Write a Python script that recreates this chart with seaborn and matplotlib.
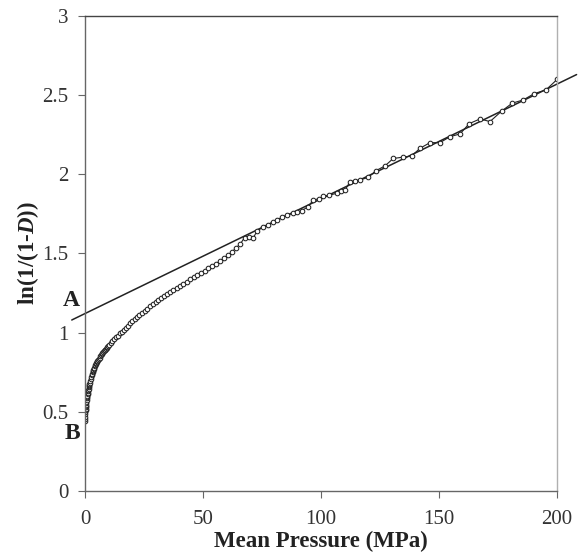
import numpy as np
import seaborn as sns
import matplotlib.pyplot as plt

# Heckel plot data: mean pressure (MPa) vs ln(1/(1-D))
pressao = [0.0, 0.05, 0.1, 0.15, 0.2, 0.25, 0.3, 0.35, 0.4, 0.45, 0.5, 0.6, 0.7, 0.8, 0.9,
           1.0, 1.1, 1.2, 1.3, 1.4, 1.5, 1.6, 1.7, 1.8, 1.9, 2.0, 2.2, 2.4, 2.6, 2.8,
           3.0, 3.2, 3.4, 3.6, 3.8, 4.0, 4.2, 4.4, 4.6, 4.8, 5.0, 5.3, 5.6, 5.9, 6.2,
           6.5, 6.8, 7.1, 7.4, 7.7, 8.0, 8.3, 8.6, 8.9, 9.2, 9.5, 9.8,
           10.2, 10.9, 11.6, 12.3, 13.1, 13.9, 14.7, 15.5, 16.4, 17.3, 18.2, 19.1,
           20.1, 21.1, 22.1, 23.1, 24.2, 25.3, 26.4, 27.5, 28.7, 29.9, 31.1, 32.3, 33.6,
           34.9, 36.2, 37.5, 38.9, 40.3, 41.7, 43.1, 44.6, 46.1, 47.6, 49.1, 50.7, 52.3,
           53.9, 55.5, 57.2, 58.9, 60.6, 62.3, 64.0, 65.8, 67.6, 69.4, 71.2, 73.0,
           75.5, 77.7, 79.6, 81.2, 83.5, 85.5, 88.3, 90.0, 91.8, 94.6, 96.7, 99.0, 101.0,
           103.5, 106.6, 108.5, 110.2, 112.3, 114.5, 116.5, 120.0, 123.3, 127.1, 130.6,
           134.6, 138.4, 142.0, 146.2, 150.4, 154.7, 158.9, 162.8, 167.4, 171.6, 176.6,
           181.0, 185.7, 190.4, 195.3, 200.1]
ln_d = [0.44, 0.455, 0.47, 0.485, 0.498, 0.51, 0.52, 0.53, 0.538, 0.546, 0.553, 0.565,
        0.576, 0.585, 0.593, 0.60, 0.61, 0.62, 0.629, 0.638, 0.647, 0.655, 0.663, 0.67,
        0.677, 0.684, 0.697, 0.709, 0.72, 0.731, 0.741, 0.75, 0.758, 0.766, 0.773, 0.78,
        0.787, 0.794, 0.80, 0.806, 0.812, 0.82, 0.828, 0.836, 0.843, 0.85, 0.857, 0.864,
        0.87, 0.876, 0.882, 0.888, 0.893, 0.898, 0.903, 0.908, 0.913,
        0.922, 0.935, 0.947, 0.958, 0.97, 0.982, 0.995, 1.006, 1.019, 1.032, 1.045, 1.058,
        1.071, 1.084, 1.097, 1.11, 1.124, 1.138, 1.152, 1.166, 1.18, 1.193, 1.205, 1.218,
        1.231, 1.244, 1.257, 1.27, 1.283, 1.296, 1.309, 1.322, 1.336, 1.35, 1.363, 1.377,
        1.391, 1.406, 1.42, 1.436, 1.452, 1.47, 1.49, 1.51, 1.535, 1.56, 1.60, 1.605,
        1.595, 1.645,
        1.665, 1.68, 1.70, 1.712, 1.728, 1.743, 1.754, 1.762, 1.77, 1.796, 1.838, 1.845,
        1.86, 1.868, 1.88, 1.892, 1.90, 1.954, 1.96, 1.965, 1.98, 2.023, 2.053, 2.10,
        2.108, 2.116, 2.165, 2.20, 2.20, 2.238, 2.255, 2.32, 2.35, 2.333, 2.40, 2.449,
        2.47, 2.51, 2.533, 2.60]

# linear (Heckel) fit, end points
reta_x = [-5.6, 208.3]
reta_y = [1.08, 2.63]

sns.set_style("white")
plt.rcParams['font.family'] = ['Liberation Serif', 'DejaVu Serif']
plt.rcParams['mathtext.fontset'] = 'custom'
plt.rcParams['mathtext.rm'] = 'Liberation Serif:bold'
plt.rcParams['mathtext.bf'] = 'Liberation Serif:bold'
plt.rcParams['mathtext.it'] = 'Liberation Serif:bold:italic'
plt.rcParams['mathtext.bfit'] = 'Liberation Serif:bold:italic'

fig = plt.figure(figsize=(5.86, 5.55), dpi=100)
ax = fig.add_axes([0.145, 0.1153, 0.8055, 0.8559])

sns.lineplot(x=reta_x, y=reta_y, color='#222222', linewidth=1.1, ax=ax, sort=False)
for l in ax.lines:
    l.set_clip_on(False)

sns.lineplot(x=pressao, y=ln_d, sort=False, color='#222222', linewidth=0.8,
             marker='o', markersize=3.3, markerfacecolor='white',
             markeredgecolor='#222222', markeredgewidth=0.75, ax=ax)

ax.set_xlim(0, 200)
ax.set_ylim(0, 3)
ax.set_xticks([0, 50, 100, 150, 200])
ax.set_yticks([0, 0.5, 1, 1.5, 2, 2.5, 3])
ax.set_yticklabels(['0', '0.5', '1', '1.5', '2', '2.5', '3'])
ax.tick_params(axis='both', direction='out', length=5, width=0.8, color='#666666',
               labelsize=15, labelcolor='#333333', left=True, bottom=True)
ax.tick_params(axis='x', pad=9)
ax.tick_params(axis='y', pad=7)

ax.set_xlabel('Mean Pressure (MPa)', fontsize=16.5, fontweight='bold', color='#222222', labelpad=1)
ax.set_ylabel(r'ln(1/(1-$\mathbfit{D}$))', fontsize=16.5, fontweight='bold', color='#222222',
              labelpad=1)

for lado, cor in [('left', '#666666'), ('bottom', '#666666'), ('top', '#444444'), ('right', '#b0b0b0')]:
    ax.spines[lado].set_visible(True)
    ax.spines[lado].set_color(cor)
    ax.spines[lado].set_linewidth(1.0)

ax.text(-5.9, 1.2, 'A', fontsize=17, fontweight='bold', ha='center', va='center',
        color='#222222', clip_on=False)
ax.text(-5.3, 0.365, 'B', fontsize=17, fontweight='bold', ha='center', va='center',
        color='#222222', clip_on=False)

fig.savefig('out.png', dpi=100)
